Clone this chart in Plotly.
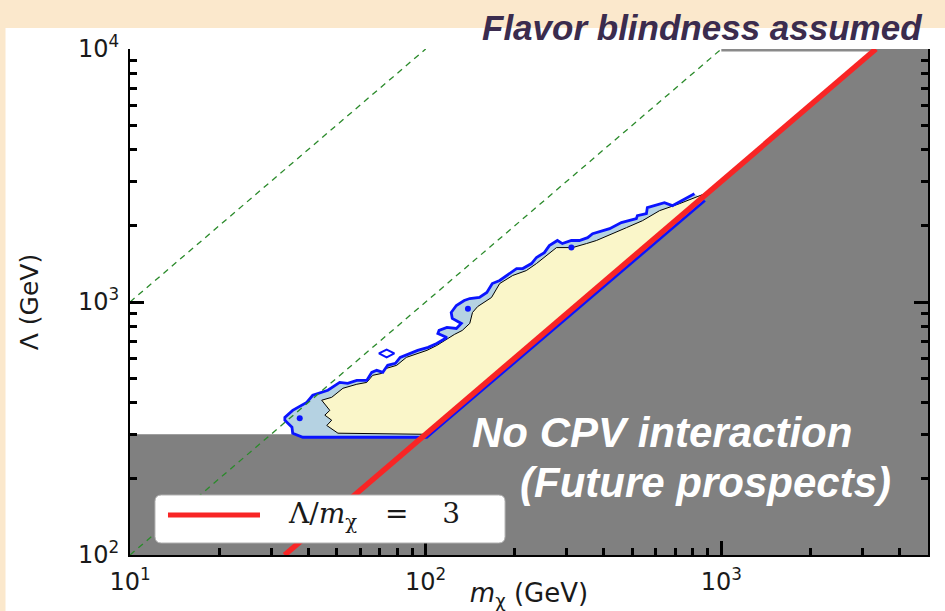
import plotly.graph_objects as go

# Lambda / m_chi = 3 line (red)
ratio3_m = [33.33, 3333.3]
ratio3_lam = [100, 10000]

# green dashed reference lines, Lambda / m_chi = 100 and 10
ratio100_m = [10, 100]
ratio100_lam = [1000, 10000]
ratio10_m = [10, 1000]
ratio10_lam = [100, 10000]

# grey excluded region
excl_m = [10, 10, 100, 3333.3, 5000, 5000]
excl_lam = [100, 300, 300, 10000, 10000, 100]

# outer (blue) contour
outer_m = [811, 683, 642, 562, 558, 520, 516, 459, 419, 381,
           367, 353, 331, 311, 290, 279, 262, 252, 237, 228,
           213, 203, 188, 178, 168, 161, 152, 141, 135, 127,
           122, 123, 132, 127, 118, 111, 110, 118, 109, 102,
           94, 86, 82, 79, 74.4, 71.6, 68.3, 65.7, 63.2, 58.5,
           54.5, 51.2, 48.1, 46.7, 41.5, 39.6, 35.5, 33.4, 33.4, 35.3,
           35.5, 38.4, 100.8, 880]
outer_lam = [2680, 2404, 2470, 2360, 2234, 2194, 2135, 2060, 1950, 1880,
             1862, 1796, 1750, 1750, 1702, 1750, 1670, 1567, 1500, 1419,
             1356, 1356, 1273, 1216, 1183, 1090, 1042, 1032, 1014, 969,
             909, 861, 823, 786, 793, 772, 751, 724, 686, 662,
             644, 615, 604, 572, 562, 527, 537, 527, 490, 490,
             477, 481, 460, 448, 428, 401, 373, 350, 341, 320,
             303, 292, 292, 2520]

# inner (yellow) contour
inner_m = [905, 721, 618, 541, 478, 428, 378, 350, 314, 277,
           256, 237, 219, 197, 178, 167, 150, 144, 141, 133,
           125, 118, 109, 101, 86, 79.8, 73.8, 71, 66.2, 63.2,
           58.5, 52.5, 48.1, 44.5, 47.4, 45.6, 48.1, 46.3, 50.5, 100]
inner_lam = [2715, 2446, 2296, 2096, 1968, 1862, 1750, 1702, 1641, 1641,
             1526, 1419, 1331, 1273, 1183, 1042, 960, 909, 823, 772,
             744, 711, 673, 644, 604, 562, 547, 522, 513, 481,
             473, 456, 420, 409, 373, 357, 341, 325, 303, 300]

# small blue islands
dot_m = [37.5, 139, 311]
dot_lam = [347, 940, 1641]
loop_m = [73.8]
loop_lam = [626]

top_edge_m = [1000, 3333.3]
top_edge_lam = [10000, 10000]

x_tick_vals = [10, 100, 1000]
x_tick_text = ["10<sup>1</sup>", "10<sup>2</sup>", "10<sup>3</sup>"]
y_tick_vals = [100, 1000, 10000]
y_tick_text = ["10<sup>2</sup>", "10<sup>3</sup>", "10<sup>4</sup>"]

legend_label = "Λ/<i>m</i><sub>χ</sub>\u2003=\u2003\u20093"

RED = "#f82525"
BLUE = "#0a14ff"

fig = go.Figure()

fig.add_trace(go.Scatter(x=excl_m, y=excl_lam, fill="toself", fillcolor="#808080",
                         mode="lines", line=dict(width=0), hoverinfo="skip"))
fig.add_trace(go.Scatter(x=outer_m, y=outer_lam, fill="toself", fillcolor="#b5d2e2",
                         mode="lines", line=dict(width=0), hoverinfo="skip"))
fig.add_trace(go.Scatter(x=inner_m, y=inner_lam, fill="toself", fillcolor="#faf6c9",
                         mode="lines", line=dict(color="black", width=1), hoverinfo="skip"))
fig.add_trace(go.Scatter(x=outer_m, y=outer_lam, mode="lines",
                         line=dict(color=BLUE, width=2.8), hoverinfo="skip"))
fig.add_trace(go.Scatter(x=dot_m, y=dot_lam, mode="markers",
                         marker=dict(color=BLUE, size=6, symbol="circle"), hoverinfo="skip"))
fig.add_trace(go.Scatter(x=loop_m, y=loop_lam, mode="markers",
                         marker=dict(color=BLUE, size=11, symbol="diamond-wide-open",
                                     line=dict(width=2, color=BLUE)), hoverinfo="skip"))

for xs, ys in [(ratio100_m, ratio100_lam), (ratio10_m, ratio10_lam)]:
    fig.add_trace(go.Scatter(x=xs, y=ys, mode="lines",
                             line=dict(color="#2a8a2a", width=1.3, dash="6px,5px"),
                             hoverinfo="skip"))

fig.add_trace(go.Scatter(x=top_edge_m, y=top_edge_lam, mode="lines",
                         line=dict(color="#8a8a8a", width=5), hoverinfo="skip"))
fig.add_trace(go.Scatter(x=ratio3_m, y=ratio3_lam, mode="lines",
                         line=dict(color=RED, width=5.5), name=legend_label))

tickfont = dict(family="DejaVu Sans", size=24, color="#1a1a1a")
axis_common = dict(type="log", showline=True, linecolor="black", linewidth=2,
                   ticks="inside", ticklen=14, tickwidth=2.5, tickcolor="black",
                   showgrid=False, zeroline=False, tickfont=tickfont, automargin=False,
                   minor=dict(ticks="inside", ticklen=7, tickwidth=2.5,
                              tickcolor="black", showgrid=False, dtick="D1"))

fig.update_layout(
    width=945, height=611,
    margin=dict(l=130, r=17, t=49, b=56, autoexpand=False),
    paper_bgcolor="#fbe8cc",
    plot_bgcolor="white",
    showlegend=False,
    xaxis=dict(axis_common, range=[1, 3.699], tickvals=x_tick_vals, ticktext=x_tick_text,
               ticklabelstandoff=4,
               title=dict(text="<i>m</i><sub>χ</sub> (GeV)", standoff=0,
                          font=dict(family="DejaVu Sans", size=26, color="#1a1a1a"))),
    yaxis=dict(axis_common, range=[2, 4], tickvals=y_tick_vals, ticktext=y_tick_text,
               mirror="ticks", ticklabelstandoff=4,
               title=dict(text="Λ (GeV)", standoff=32,
                          font=dict(family="DejaVu Sans", size=25, color="#1a1a1a"))),
)

# white slide panel behind the plot
fig.add_shape(type="rect", xref="paper", yref="paper", x0=-0.156, x1=1.03,
              y0=-0.13, y1=1.0415, fillcolor="white", line=dict(width=0), layer="below")

# legend box drawn by hand (long line sample as in the original)
bx0, bx1, by0, by1, rx, ry = 0.0313, 0.470, 0.0237, 0.1186, 0.008, 0.013
box_path = (f"M{bx0 + rx},{by0} L{bx1 - rx},{by0} Q{bx1},{by0} {bx1},{by0 + ry} "
            f"L{bx1},{by1 - ry} Q{bx1},{by1} {bx1 - rx},{by1} "
            f"L{bx0 + rx},{by1} Q{bx0},{by1} {bx0},{by1 - ry} "
            f"L{bx0},{by0 + ry} Q{bx0},{by0} {bx0 + rx},{by0} Z")
fig.add_shape(type="path", path=box_path, xref="paper", yref="paper",
              fillcolor="white", line=dict(color="#b0b0b0", width=1), layer="above")
fig.add_shape(type="line", xref="paper", yref="paper", x0=0.0476, x1=0.1629,
              y0=0.079, y1=0.079, line=dict(color=RED, width=5), layer="above")
fig.add_annotation(text=legend_label, xref="paper", yref="paper", x=0.195, y=0.079,
                   xanchor="left", yanchor="middle", showarrow=False,
                   font=dict(family="DejaVu Serif", size=28, color="#1a1a1a"))

slide_font = dict(family="Liberation Sans, Arial", weight="bold", style="italic")
fig.add_annotation(text="Flavor blindness assumed", xref="paper", yref="paper",
                   x=0.717, y=1.043, xanchor="center", yanchor="middle", showarrow=False,
                   font=dict(slide_font, size=35, color="#3b2c4e"))
fig.add_annotation(text="No CPV interaction", xref="paper", yref="paper",
                   x=0.426, y=0.243, xanchor="left", yanchor="middle", showarrow=False,
                   font=dict(slide_font, size=42, color="white"))
fig.add_annotation(text="(Future prospects)", xref="paper", yref="paper",
                   x=0.486, y=0.144, xanchor="left", yanchor="middle", showarrow=False,
                   font=dict(slide_font, size=42, color="white"))

# page body has a default 8px margin; drop it so the figure fills the window
fig.write_html("out.html", config={"displayModeBar": False},
               post_script="document.body.style.margin='0';document.body.style.overflow='hidden';")
